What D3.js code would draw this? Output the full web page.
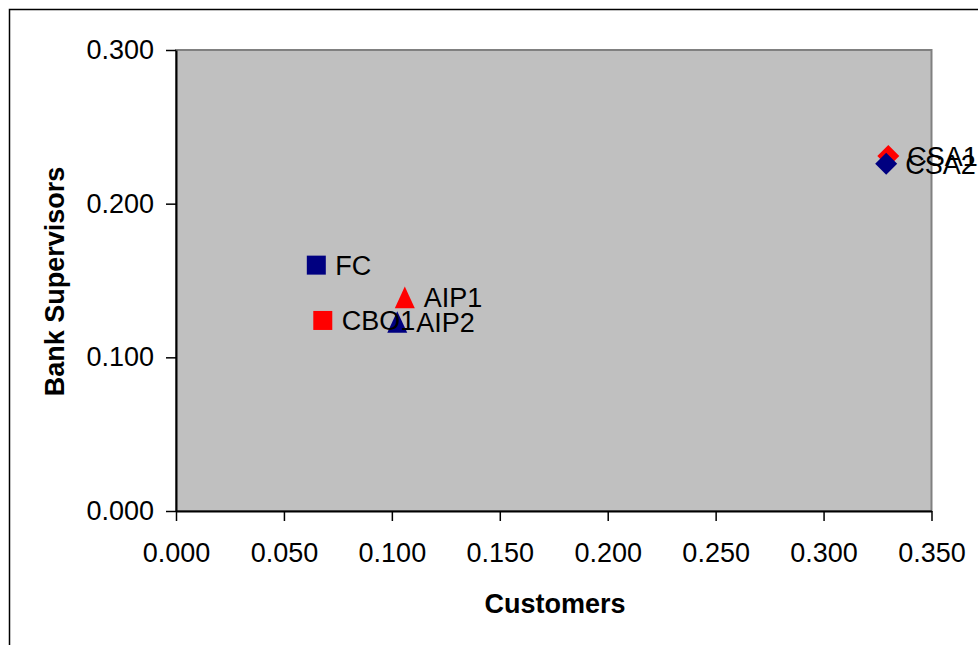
<!DOCTYPE html>
<html>
<head>
<meta charset="utf-8">
<script src="https://cdn.jsdelivr.net/npm/d3@7"></script>
<style>
  html, body { margin: 0; padding: 0; background: #fff; }
  svg { display: block; font-family: "Liberation Sans", Arial, sans-serif; }
</style>
</head>
<body>
<script>
// ---- data ----
const pointLabels = ["CBO1", "FC", "AIP1", "AIP2", "CSA1", "CSA2"];
const customers = [0.068, 0.065, 0.106, 0.1025, 0.330, 0.329];
const bankSupervisors = [0.124, 0.160, 0.139, 0.123, 0.231, 0.226];
const pointPair = ["CBO/FC", "CBO/FC", "AIP", "AIP", "CSA", "CSA"];
const pointRound = [1, 2, 1, 2, 1, 2];
const xTicks = [0, 0.05, 0.10, 0.15, 0.20, 0.25, 0.30, 0.35];
const yTicks = [0, 0.1, 0.2, 0.3];
const xTitle = "Customers";
const yTitle = "Bank Supervisors";

const W = 978, H = 645;
const margin = { left: 176, top: 50, right: 978 - 931.5, bottom: 645 - 511 };
const fontSize = 27;

const svg = d3.select("body").append("svg").attr("width", W).attr("height", H);

// outer chart border (clipped at right/bottom like the reference)
svg.append("rect").attr("x", 9.5).attr("y", 9.5).attr("width", 1000).attr("height", 700)
  .attr("fill", "#fff").attr("stroke", "#000").attr("stroke-width", 1.5);

const x = d3.scaleLinear().domain([0, 0.35]).range([margin.left, W - margin.right]);
const y = d3.scaleLinear().domain([0, 0.3]).range([H - margin.bottom, margin.top]);

// plot area
svg.append("rect")
  .attr("x", x(0)).attr("y", y(0.3))
  .attr("width", x(0.35) - x(0)).attr("height", y(0) - y(0.3))
  .attr("fill", "#c0c0c0").attr("stroke", "#808080").attr("stroke-width", 2);

// axes
const fmt = d3.format(".3f");
const xAxis = svg.append("g").attr("transform", `translate(0,${y(0)})`)
  .call(d3.axisBottom(x).tickValues(xTicks).tickFormat(fmt).tickSize(10).tickSizeOuter(0).tickPadding(22));
const yAxis = svg.append("g").attr("transform", `translate(${x(0)},0)`)
  .call(d3.axisLeft(y).tickValues(yTicks).tickFormat(fmt).tickSize(10).tickSizeOuter(0).tickPadding(12));
[xAxis, yAxis].forEach(g => {
  g.select(".domain").attr("stroke", "#000").attr("stroke-width", 2);
  g.selectAll(".tick line").attr("stroke", "#000").attr("stroke-width", 1.5);
  g.selectAll(".tick text").attr("fill", "#000")
    .style("font-size", fontSize + "px").style("font-family", "'Liberation Sans', Arial, sans-serif");
});

// axis titles
svg.append("text").attr("x", 555).attr("y", 613).attr("text-anchor", "middle")
  .style("font-size", fontSize + "px").style("font-weight", "bold").text(xTitle);
svg.append("text").attr("transform", `translate(64,${281.5}) rotate(-90)`).attr("text-anchor", "middle")
  .style("font-size", fontSize + "px").style("font-weight", "bold").text(yTitle);

// custom marker shapes (size = bounding width)
const squareSym = { draw(ctx, s) { const r = s / 2; ctx.rect(-r, -r, s, s); } };
const triSym = { draw(ctx, s) { const r = s / 2, h = s * 1.08 / 2; ctx.moveTo(0, -h); ctx.lineTo(r, h); ctx.lineTo(-r, h); ctx.closePath(); } };
const diaSym = { draw(ctx, s) { const r = s / 2; ctx.moveTo(0, -r); ctx.lineTo(r, 0); ctx.lineTo(0, r); ctx.lineTo(-r, 0); ctx.closePath(); } };

const colorScale = d3.scaleOrdinal().domain([1, 2]).range(["#ff0000", "#000080"]);
const shapeScale = d3.scaleOrdinal().domain(["CBO/FC", "AIP", "CSA"]).range([squareSym, triSym, diaSym]);
const sizeScale = d3.scaleOrdinal().domain(["CBO/FC", "AIP", "CSA"]).range([19, 20, 22]);

const pts = pointLabels.map((lab, i) => ({
  label: lab, cx: customers[i], cy: bankSupervisors[i], pair: pointPair[i], round: pointRound[i]
}));

svg.append("g").selectAll("path").data(pts).join("path")
  .attr("transform", d => `translate(${x(d.cx)},${y(d.cy)})`)
  .attr("d", d => d3.symbol().type(shapeScale(d.pair)).size(sizeScale(d.pair))())
  .attr("fill", d => colorScale(d.round));

svg.append("g").selectAll("text").data(pts).join("text")
  .attr("x", d => x(d.cx) + 19).attr("y", d => y(d.cy)).attr("dy", "0.37em")
  .style("font-size", fontSize + "px").attr("fill", "#000")
  .text(d => d.label);
</script>
</body>
</html>
